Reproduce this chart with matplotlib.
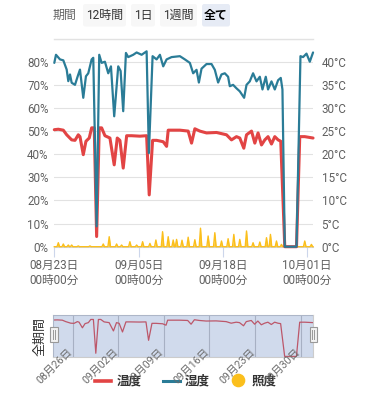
import matplotlib
matplotlib.use("Agg")
import matplotlib.pyplot as plt
import matplotlib.transforms as mtransforms
from matplotlib.patches import Rectangle, FancyBboxPatch
from matplotlib.lines import Line2D
import numpy as np

plt.rcParams['font.family'] = ['Roboto', 'Noto Sans CJK JP', 'DejaVu Sans']

W, H = 372, 400

# humidity (%), time in days from 08/23 00:00
hum_day = [0.0, 0.26, 0.88, 1.39, 1.91, 2.16, 2.42, 2.68, 3.19, 3.61, 3.96, 4.47, 4.88, 5.24,
           5.76, 6.01, 6.53, 6.93, 7.30, 7.81, 8.32, 8.74, 9.24, 9.86, 10.23, 10.63, 11.05,
           11.40, 12.17, 12.70, 13.47, 14.24, 14.59, 15.16, 15.78, 16.29, 16.80, 17.32, 18.09,
           19.37, 20.14, 20.91, 21.42, 21.94, 22.30, 22.71, 23.48, 24.25, 24.76, 25.27, 25.79,
           26.30, 26.81, 27.07, 27.58, 28.10, 28.61, 29.28, 29.65, 30.15, 30.66, 31.19, 31.70,
           32.11, 32.62, 32.97, 33.50, 34.01, 34.52, 34.93, 35.19, 35.55, 37.36, 37.97, 38.37,
           38.90, 39.41, 39.91]
hum_val = [79.5, 83, 81, 80.6, 76.6, 71.6, 74.5, 70.9, 70, 73.7, 76.6, 64.4, 73.7, 75,
           81, 81.7, 8.8, 83, 79.5, 80, 75, 78, 56.4, 78, 76, 58.6, 83.8,
           82, 83, 84, 83, 84.5, 40.5, 82.4, 81, 83, 78, 81, 82,
           82.4, 81, 79.5, 75, 76.5, 71, 77, 79, 79, 76.5, 71, 74.5,
           75, 73.5, 69.4, 70, 68.5, 67.2, 64.4, 70, 71.5, 75, 71.5, 73.5,
           68, 73.5, 68, 71.5, 68, 72, 73, 68, 0, 0, 82.4, 82,
           83.5, 80, 84]

# temperature (°C)
temp_day = [0.0, 0.62, 1.39, 1.91, 2.68, 3.19, 3.70, 3.96, 4.47, 4.88, 5.39, 5.76, 6.16, 6.53,
            6.93, 7.30, 7.81, 8.58, 9.24, 9.71, 10.12, 10.63, 11.16, 11.93, 13.20, 14.24, 14.64,
            15.16, 15.78, 16.80, 17.32, 17.57, 18.86, 19.37, 20.65, 21.17, 21.68, 22.45, 23.48,
            25.02, 26.56, 27.33, 28.10, 28.61, 29.23, 29.65, 30.42, 30.93, 31.43, 31.96, 32.47,
            32.97, 33.50, 34.01, 34.52, 34.93, 35.55, 37.36, 37.86, 38.63, 39.91]
temp_val = [25.3, 25.4, 25.2, 24.2, 23.1, 23.0, 24.2, 23.8, 19.9, 22.8, 23.5, 25.7, 25.7, 2.2,
            25.7, 25.7, 24.0, 23.5, 17.7, 23.5, 23.0, 17.0, 24.0, 24.0, 23.9, 24.0, 11.2,
            23.0, 23.0, 22.7, 21.7, 25.2, 25.2, 25.2, 25.0, 22.4, 25.5, 25.0, 24.6,
            24.7, 24.2, 23.1, 23.8, 23.5, 21.3, 24.2, 25.0, 22.4, 24.6, 22.0, 23.1,
            23.8, 22.2, 23.8, 23.1, 22.8, 0, 0, 23.8, 23.8, 23.5]

# illuminance daily peaks (lux)
lux_day = [0.62, 1.39, 2.16, 2.68, 3.70, 5.50, 7.55, 8.47, 9.61, 10.38, 11.66, 12.70, 13.62,
           14.75, 15.67, 16.70, 17.57, 18.34, 18.86, 19.70, 20.65, 21.68, 22.55, 23.73, 24.76,
           25.79, 26.81, 27.69, 28.61, 29.65, 30.66, 31.70, 32.73, 33.34, 34.27, 35.04, 38.63,
           39.66]
lux_val = [400, 270, 170, 170, 80, 80, 270, 1000, 270, 170, 500, 170, 500,
           330, 670, 1500, 1000, 670, 730, 650, 950, 700, 1850, 1070, 1400,
           570, 800, 1230, 730, 1570, 400, 470, 900, 1230, 570, 230, 570,
           230]

xtick_days = [0, 13, 26, 39]
xtick_labels = ['08月23日\n00時00分', '09月05日\n00時00分', '09月18日\n00時00分', '10月01日\n00時00分']
nav_days = [3, 10, 17, 24, 31, 38]
nav_labels = ['08月26日', '09月02日', '09月09日', '09月16日', '09月23日', '09月30日']
buttons = ['12時間', '1日', '1週間', '全て']
series_names = ['温度', '湿度', '照度']

RED = '#e24444'
BLUE = '#2a7c97'
YELLOW = '#fbbf1c'
GRID = '#e2e2e2'
LABEL = '#606060'


def fx(x):
    return x / W


def fy(y):
    return 1 - y / H


fig = plt.figure(figsize=(W / 100, H / 100), dpi=100)
XMAX = 39.95

# main chart, layered so humidity sits on top of temperature
rect = [fx(54.3), fy(246.7), fx(313.3) - fx(54.3), fy(38.6) - fy(246.7)]
ax = fig.add_axes(rect)
ax_i = ax.twinx()
ax_t = ax.twinx()
ax_h = ax.twinx()
ax.set_zorder(1)
ax_i.set_zorder(2)
ax_t.set_zorder(3)
ax_h.set_zorder(4)
for a in (ax_i, ax_t, ax_h):
    a.patch.set_visible(False)
for a in (ax, ax_i, ax_t, ax_h):
    for s in a.spines.values():
        s.set_visible(False)
    a.set_xlim(0, XMAX)

ax.spines['bottom'].set_visible(True)
ax.spines['bottom'].set_color('#ccd6eb')
ax.spines['bottom'].set_linewidth(0.8)
ax.set_ylim(0, 90)
ax.set_yticks(range(0, 91, 10))
ax.set_yticklabels([f'{v}%' for v in range(0, 81, 10)] + [''])
ax.grid(axis='y', color=GRID, linewidth=0.8)
# top grid line of the plot area (no label)
ax.spines['top'].set_visible(True)
ax.spines['top'].set_color(GRID)
ax.spines['top'].set_linewidth(1.0)
ax.tick_params(axis='y', length=0, pad=4, labelsize=8.4, labelcolor=LABEL)
ax.set_xticks(xtick_days)
ax.set_xticklabels(xtick_labels, linespacing=1.25)
ax.tick_params(axis='x', length=7.2, width=0.8, color='#ccd6eb', pad=1.5,
               labelsize=8.4, labelcolor=LABEL)

# illuminance: narrow daytime spikes joined by the night-time zero level
lux_t = np.column_stack([np.array(lux_day) - 0.2, lux_day, np.array(lux_day) + 0.2]).ravel()
lux_v = np.column_stack([np.zeros(len(lux_val)), lux_val, np.zeros(len(lux_val))]).ravel()
lux_t = np.concatenate([[hum_day[0]], lux_t, [hum_day[-1]]])
lux_v = np.concatenate([[0], lux_v, [0]])
ax_i.fill_between(lux_t, lux_v, color=YELLOW, alpha=0.85, linewidth=0)
ax_i.plot(lux_t, lux_v, color=YELLOW, linewidth=1.0, clip_on=False)
ax_i.set_ylim(0, 20800)
ax_i.yaxis.set_visible(False)

ax_t.plot(temp_day, temp_val, color=RED, linewidth=2.2, solid_joinstyle='round',
          solid_capstyle='round', clip_on=False)
ax_t.set_ylim(0, 45)
ax_t.set_yticks(range(0, 46, 5))
ax_t.set_yticklabels([f'{v}°C' for v in range(0, 41, 5)] + [''])
ax_t.tick_params(axis='y', length=0, pad=6, labelsize=8.4, labelcolor=LABEL)

ax_h.plot(hum_day, hum_val, color=BLUE, linewidth=1.6, solid_joinstyle='round',
          solid_capstyle='round', clip_on=False)
ax_h.set_ylim(0, 90)
ax_h.yaxis.set_visible(False)

# range selector
fig.text(fx(53), fy(15.5), '期間', fontsize=8.6, color='#666666', va='center', ha='left')
btn_x = [(83, 126), (131, 155), (160, 197), (202, 230)]
for (x0, x1), lab in zip(btn_x, buttons):
    sel = lab == '全て'
    fig.patches.append(FancyBboxPatch((fx(x0), fy(26.5)), fx(x1) - fx(x0), fy(4) - fy(26.5),
                                      boxstyle='round,pad=0,rounding_size=0.006',
                                      transform=fig.transFigure,
                                      facecolor='#e6ebf5' if sel else '#f7f7f7',
                                      edgecolor='none'))
    fig.text(fx((x0 + x1) / 2), fy(15.5), lab, fontsize=8.6, ha='center', va='center',
             color='#000000' if sel else '#333333', fontweight='bold' if sel else 'normal')

# navigator
nav = fig.add_axes([fx(53.3), fy(356.7), fx(313.3) - fx(53.3), fy(315) - fy(356.7)])
nav.set_xlim(0, XMAX)
nav.set_ylim(-0.2, 28.8)
nav.set_xticks([])
nav.set_yticks([])
for d in nav_days:
    nav.axvline(d, color='#c4c4c4', linewidth=0.8, zorder=1)
nav.plot(temp_day, temp_val, color=RED, linewidth=0.9, zorder=2)
nav.axvspan(0, XMAX, facecolor=(102 / 255, 133 / 255, 194 / 255, 0.3), edgecolor='none', zorder=3)
for s in nav.spines.values():
    s.set_color('#cccccc')
    s.set_linewidth(0.8)

lab_trans = mtransforms.blended_transform_factory(nav.transData, fig.transFigure)
lab_trans = mtransforms.offset_copy(lab_trans, fig=fig, x=-2, y=0, units='dots')
for d, lab in zip(nav_days, nav_labels):
    fig.text(d, fy(350), lab, transform=lab_trans, rotation=45, rotation_mode='anchor',
             ha='right', va='center', fontsize=7.7, color='#6a6a6a', zorder=5)

# handles
for x0 in (50, 309.5):
    fig.patches.append(Rectangle((fx(x0), fy(342)), fx(7.5), fy(326.5) - fy(342),
                                 transform=fig.transFigure, facecolor='#f2f2f2',
                                 edgecolor='#999999', linewidth=0.8, zorder=6))
    for lx in (x0 + 2.8, x0 + 4.7):
        fig.lines.append(Line2D([fx(lx), fx(lx)], [fy(330), fy(338.5)], transform=fig.transFigure,
                                color='#999999', linewidth=0.7, zorder=7))

fig.text(fx(39.5), fy(336), '全期間', rotation=90, ha='center', va='center', fontsize=9.4,
         color='#333333')

# legend
leg_y = fy(381)
fig.lines.append(Line2D([fx(95), fx(111)], [leg_y, leg_y], transform=fig.transFigure,
                        color=RED, linewidth=2.6))
fig.lines.append(Line2D([fx(163), fx(180)], [leg_y, leg_y], transform=fig.transFigure,
                        color=BLUE, linewidth=2.2))
fig.lines.append(Line2D([fx(238)], [fy(380)], transform=fig.transFigure, marker='o',
                        markersize=8.8, color=YELLOW, linestyle='none'))
for x0, name in zip((117, 185, 252), series_names):
    fig.text(fx(x0), leg_y, name, fontsize=9, fontweight='bold', color='#333333',
             ha='left', va='center')

fig.savefig('out.png', dpi=100, facecolor='white')
